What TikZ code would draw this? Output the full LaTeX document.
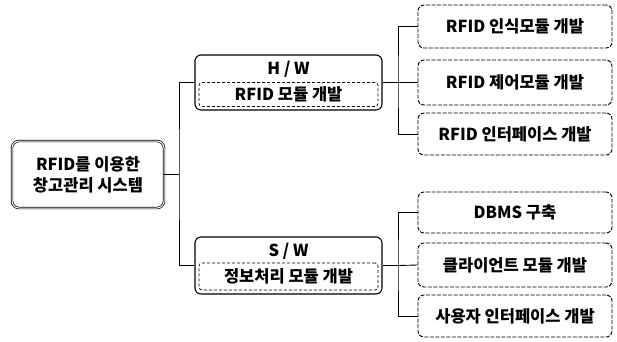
\documentclass[tikz,border=0pt]{standalone}
\usepackage{fontspec}
\setmainfont{Noto Sans CJK KR}
\begin{document}
\begin{tikzpicture}[x=1pt,y=-1pt,
  font=\bfseries\fontsize{16.5}{20}\selectfont,
  conn/.style={line width=0.9pt},
  rootbox/.style={draw, double, double distance=1pt, line width=0.7pt, rounded corners=7pt, minimum width=152pt, minimum height=67pt, align=center, inner sep=0pt},
  groupbox/.style={draw, line width=1.1pt, rounded corners=6pt, minimum width=187pt, inner sep=0pt},
  subbox/.style={draw, densely dashed, line width=0.7pt, rounded corners=3pt, minimum width=179pt, inner sep=0pt},
  leafbox/.style={draw, dash pattern=on 4pt off 1.5pt, line width=0.9pt, rounded corners=6pt, minimum width=194pt, inner sep=0pt}
]
\useasboundingbox (0,0) rectangle (617,341);

% root
\node[rootbox] (root) at (88,174.5) {RFID를 이용한\\[1pt]창고관리 시스템};

% H/W group
\node[groupbox, minimum height=55pt] (hw) at (288.5,82.5) {};
\node (hwt) at (288.5,69) {H / W};
\node[subbox, minimum height=24pt] (hws) at (288.5,94.5) {RFID 모듈 개발};

% S/W group
\node[groupbox, minimum height=57pt] (sw) at (288.5,265.5) {};
\node (swt) at (288.5,251) {S / W};
\node[subbox, minimum height=27pt] (sws) at (288.5,276.5) {정보처리 모듈 개발};

% leaves
\node[leafbox, minimum height=43pt] (b1) at (515,26.5) {RFID 인식모듈 개발};
\node[leafbox, minimum height=45pt] (b2) at (515,82.5) {RFID 제어모듈 개발};
\node[leafbox, minimum height=42pt] (b3) at (515,134) {RFID 인터페이스 개발};
\node[leafbox, minimum height=41pt] (b4) at (515,212.5) {DBMS 구축};
\node[leafbox, minimum height=44pt] (b5) at (515,265) {클라이언트 모듈 개발};
\node[leafbox, minimum height=42pt] (b6) at (515,316) {사용자 인터페이스 개발};

% connectors
\coordinate (j0) at (179,174.5);
\coordinate (j1) at (398,82.5);
\coordinate (j2) at (398,265.5);
\draw[conn] (root.east) -- (j0);
\draw[conn] (hw.west) -| (j0) |- (sw.west);
\draw[conn] (hw.east) -- (j1);
\draw[conn] (b1.west) -| (j1) |- (b3.west);
\draw[conn] (b2.west) -- (j1);
\draw[conn] (sw.east) -- (j2);
\draw[conn] (b4.west) -| (j2) |- (b6.west);
\draw[conn] (b5.west) -- (j2);
\end{tikzpicture}
\end{document}
